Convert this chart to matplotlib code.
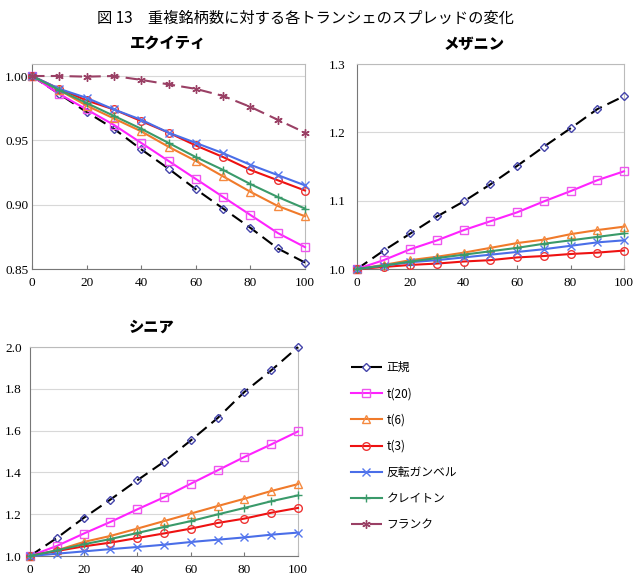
import numpy as np
import matplotlib.pyplot as plt

plt.rcParams['font.family'] = ['Noto Sans CJK JP', 'DejaVu Sans']

x = [0, 10, 20, 30, 40, 50, 60, 70, 80, 90, 100]

labels = ['正規', 't(20)', 't(6)', 't(3)', '反転ガンベル', 'クレイトン', 'フランク']

# エクイティ
eq_normal = [1.000, 0.986, 0.972, 0.959, 0.943, 0.928, 0.912, 0.897, 0.882, 0.866, 0.855]
eq_t20 = [1.000, 0.986, 0.974, 0.962, 0.948, 0.934, 0.920, 0.906, 0.892, 0.878, 0.867]
eq_t6 = [1.000, 0.989, 0.977, 0.967, 0.957, 0.945, 0.934, 0.922, 0.910, 0.899, 0.891]
eq_t3 = [1.000, 0.990, 0.981, 0.974, 0.965, 0.956, 0.946, 0.937, 0.927, 0.919, 0.911]
eq_gumbel = [1.000, 0.990, 0.983, 0.974, 0.966, 0.956, 0.948, 0.940, 0.931, 0.923, 0.915]
eq_clayton = [1.000, 0.989, 0.979, 0.969, 0.959, 0.948, 0.937, 0.927, 0.916, 0.906, 0.897]
eq_frank = [1.000, 1.000, 0.9995, 1.000, 0.997, 0.9935, 0.990, 0.9845, 0.976, 0.966, 0.956]

# メザニン
mz_normal = [1.000, 1.027, 1.052, 1.077, 1.099, 1.124, 1.151, 1.179, 1.206, 1.234, 1.253]
mz_t20 = [1.000, 1.013, 1.029, 1.042, 1.057, 1.070, 1.083, 1.099, 1.114, 1.130, 1.143]
mz_t6 = [1.000, 1.006, 1.013, 1.018, 1.024, 1.031, 1.038, 1.043, 1.051, 1.057, 1.062]
mz_t3 = [1.000, 1.003, 1.006, 1.008, 1.011, 1.013, 1.017, 1.019, 1.022, 1.024, 1.027]
mz_gumbel = [1.000, 1.005, 1.010, 1.013, 1.017, 1.021, 1.025, 1.029, 1.034, 1.039, 1.042]
mz_clayton = [1.000, 1.005, 1.011, 1.016, 1.021, 1.026, 1.031, 1.037, 1.042, 1.047, 1.052]

# シニア
sn_normal = [1.000, 1.086, 1.182, 1.270, 1.362, 1.451, 1.553, 1.660, 1.785, 1.888, 2.000]
sn_t20 = [1.000, 1.048, 1.107, 1.163, 1.223, 1.281, 1.346, 1.410, 1.474, 1.534, 1.596]
sn_t6 = [1.000, 1.027, 1.067, 1.096, 1.131, 1.167, 1.203, 1.239, 1.274, 1.311, 1.344]
sn_t3 = [1.000, 1.024, 1.046, 1.064, 1.086, 1.108, 1.131, 1.158, 1.179, 1.207, 1.230]
sn_gumbel = [1.000, 1.011, 1.022, 1.033, 1.043, 1.054, 1.067, 1.078, 1.089, 1.102, 1.112]
sn_clayton = [1.000, 1.027, 1.056, 1.081, 1.110, 1.139, 1.167, 1.199, 1.230, 1.262, 1.290]

styles = [
    dict(color='black', ls=(0, (6, 3)), marker='D', mec='#4444aa', ms=4),
    dict(color='#ff22ff', ls='-', marker='s', mec='#ee55ee', ms=5.5),
    dict(color='#f07a2a', ls='-', marker='^', mec='#f58a40', ms=5.5),
    dict(color='#ee1111', ls='-', marker='o', mec='#ee3333', ms=5.5),
    dict(color='#4a6ee8', ls='-', marker='x', mec='#5577ee', ms=5.5),
    dict(color='#3a9a6a', ls='-', marker='+', mec='#3a9a6a', ms=6),
    dict(color='#9a4065', ls=(0, (6, 3)), marker=(6, 2, 0), mec='#9a4065', ms=6),
]

tick_font = dict(family='Liberation Serif', size=9.5)

fig = plt.figure(figsize=(6.34, 5.87), dpi=100)
fig.text(0.481, 0.969, '図 13　重複銘柄数に対する各トランシェのスプレッドの変化',
         ha='center', va='center', fontsize=11)

ax1 = fig.add_axes([0.0505, 0.5417, 0.4306, 0.3492])
ax2 = fig.add_axes([0.5631, 0.5417, 0.4211, 0.3492])
ax3 = fig.add_axes([0.0473, 0.0528, 0.4227, 0.3560])

panels = [
    (ax1, 'エクイティ', 0.5, [eq_normal, eq_t20, eq_t6, eq_t3, eq_gumbel, eq_clayton, eq_frank],
     (0.85, 1.0093), [0.85, 0.90, 0.95, 1.00], '%.2f', 2.5),
    (ax2, 'メザニン', 0.44, [mz_normal, mz_t20, mz_t6, mz_t3, mz_gumbel, mz_clayton, None],
     (1.0, 1.3), [1.0, 1.1, 1.2, 1.3], '%.1f', 8),
    (ax3, 'シニア', 0.455, [sn_normal, sn_t20, sn_t6, sn_t3, sn_gumbel, sn_clayton, None],
     (1.0, 2.0), [1.0, 1.2, 1.4, 1.6, 1.8, 2.0], '%.1f', 6),
]

for ax, title, tx, series, ylim, yt, fmt, ypad in panels:
    for ys, lab, st in zip(series, labels, styles):
        if ys is None:
            continue
        ax.plot(x, ys, label=lab, color=st['color'], ls=st['ls'], lw=1.5,
                marker=st['marker'], mfc='none', mec=st['mec'], ms=st['ms'],
                mew=1.0, clip_on=False, zorder=3)
    ax.set_xlim(0, 100)
    ax.set_ylim(*ylim)
    ax.set_yticks(yt)
    ax.set_yticklabels([fmt % v for v in yt], **tick_font)
    ax.set_xticks([0, 20, 40, 60, 80, 100])
    ax.set_xticklabels(['0', '20', '40', '60', '80', '100'], **tick_font)
    ax.tick_params(axis='x', direction='in', length=3, color='#777777', pad=6)
    ax.tick_params(axis='y', length=0, pad=ypad)
    ax.grid(axis='y', color='#d8d8d8', lw=0.8)
    ax.set_axisbelow(True)
    for sp in ax.spines.values():
        sp.set_color('#bbbbbb')
    ax.spines['bottom'].set_color('#777777')
    ax.spines['left'].set_color('#777777')
    ax.set_title(title, x=tx, fontsize=11, fontweight='heavy', pad=11)

# 凡例
handles = []
for lab, st in zip(labels, styles):
    h, = ax3.plot([], [], color=st['color'], ls=st['ls'], lw=1.5, marker=st['marker'],
                  mfc='none', mec=st['mec'], ms=st['ms'], mew=1.0, label=lab)
    handles.append(h)
fig.legend(handles=handles, labels=labels, loc='upper left',
           bbox_to_anchor=(0.537, 0.403), frameon=False, fontsize=8.5,
           handlelength=2.6, labelspacing=1.12, handletextpad=0.4)

fig.savefig('out.png', dpi=100)
